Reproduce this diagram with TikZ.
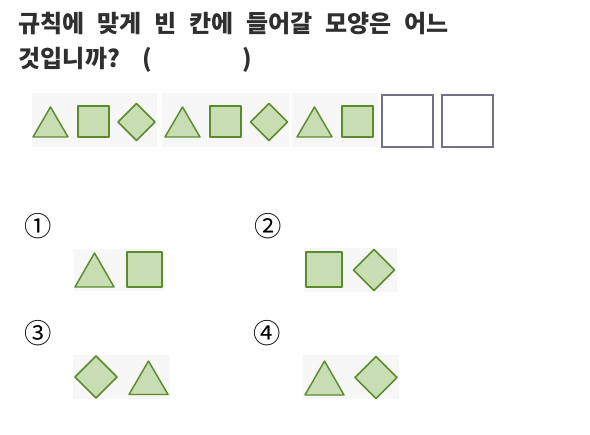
\documentclass[tikz,border=0pt]{standalone}
\usepackage{fontspec}
\newfontfamily\kr{Noto Sans CJK KR}
\newcommand{\qfont}{\kr\bfseries\fontsize{18pt}{22pt}\selectfont\spaceskip 9.6pt\relax}
\definecolor{shfill}{HTML}{C9DDB3}
\definecolor{shdraw}{HTML}{5A8C2E}
\definecolor{boxdraw}{HTML}{72728A}
\definecolor{txt}{HTML}{2F2F2F}
\definecolor{bgg}{HTML}{F7F7F7}
\tikzset{
  shp/.style={draw=shdraw, fill=shfill, line width=1.1pt, line join=round},
  emptybox/.style={draw=boxdraw, line width=0.85pt},
  qtext/.style={anchor=base west, inner sep=0pt, text=txt, font=\qfont},
  numlabel/.style={inner sep=0pt, text=black, font=\kr\fontsize{20.5pt}{24pt}\selectfont}
}
\newcommand{\tri}[4]{\draw[shp] (#1,#2) -- ({(#1+#3)/2},#4) -- (#3,#2) -- cycle;}
\newcommand{\sqr}[4]{\draw[shp] (#1,#2) rectangle (#3,#4);}
\newcommand{\dmd}[3]{\draw[shp] ({#1-#3},#2) -- (#1,{#2-#3}) -- ({#1+#3},#2) -- (#1,{#2+#3}) -- cycle;}
\begin{document}
\begin{tikzpicture}[x=0.75pt,y=-0.75pt]
\useasboundingbox (0,0) rectangle (590,435);
\fill[white] (0,0) rectangle (590,435);
% question
\node[qtext] (q1) at (18.5,33) {규칙에 맞게 빈 칸에 들어갈 모양은 어느};
\node[qtext] (q2) at (18.5,68) {것입니까?\hspace{17pt}(\hspace{68pt})};
% backgrounds of row
\fill[bgg] (32,93) rectangle (157,147);
\fill[bgg] (162,93) rectangle (289,147);
\fill[bgg] (292,93) rectangle (378,147);
% row
\tri{33}{137}{68}{107}
\sqr{78}{106}{109}{137}
\dmd{136.5}{122}{18.5}
\tri{165}{137}{200}{107}
\sqr{210}{106}{241}{137}
\dmd{269}{122}{18.5}
\tri{297}{137}{332}{107}
\sqr{342}{106}{373}{137}
\draw[emptybox] (382,95) rectangle (433,147);
\draw[emptybox] (442,95) rectangle (493,147);
% option labels
\node[numlabel] (n1) at (38,226) {①};
\node[numlabel] (n2) at (268,226) {②};
\node[numlabel] (n3) at (38.5,333) {③};
\node[numlabel] (n4) at (267.5,333) {④};
% option backgrounds
\fill[bgg] (74,249) rectangle (164,291);
\fill[bgg] (304,248) rectangle (397,292);
\fill[bgg] (73,355) rectangle (170,399);
\fill[bgg] (303,355) rectangle (399,399);
% option 1
\tri{75}{287}{114}{253}
\sqr{127}{252}{162}{287}
% option 2
\sqr{306}{252}{342}{287}
\dmd{374}{270}{20.5}
% option 3
\dmd{96}{377}{21}
\tri{129}{394.5}{168}{361}
% option 4
\tri{305}{395}{344}{361}
\dmd{376}{377.5}{21}
\end{tikzpicture}
\end{document}
